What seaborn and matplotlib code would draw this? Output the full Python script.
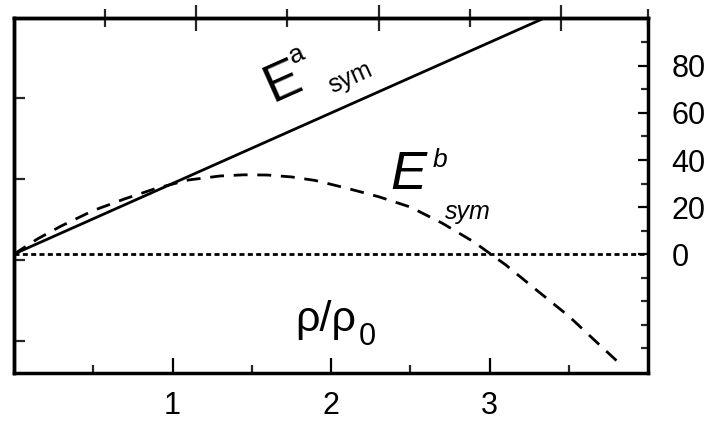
import numpy as np
import pandas as pd
import matplotlib
matplotlib.use("Agg")
import matplotlib.pyplot as plt
import seaborn as sns

# Symmetry energy vs. reduced density
rho_a = [0.0, 1.0, 2.0, 3.0, 3.35]
esym_a = [0.0, 30.0, 60.0, 90.0, 100.5]

rho_b = [0.0, 0.15, 0.3, 0.5, 0.7, 0.9, 1.1, 1.3, 1.45, 1.6, 1.75, 1.9,
         2.1, 2.3, 2.5, 2.7, 2.9, 3.1, 3.3, 3.5, 3.7, 3.82]
esym_b = [0.0, 6.5, 12.0, 18.5, 23.5, 28.0, 31.5, 33.2, 33.7, 33.6, 32.8,
          31.3, 28.0, 24.4, 20.0, 13.2, 5.2, -4.5, -15.5, -26.4, -39.0, -46.5]

x_major = [1, 2, 3]
x_minor = [0.5, 1.5, 2.5, 3.5]
y_major = [0, 20, 40, 60, 80]
y_minor = [-40, -30, -20, -10, 10, 30, 50, 70, 90]
top_major = [1.15, 2.30, 3.45]
top_minor = [0.575, 1.725, 2.875, 4.0]
left_ticks = [-36.8, -2.4, 32.0, 66.4]

sns.set_theme(style="white")
plt.rcParams["font.family"] = ["Liberation Sans", "DejaVu Sans"]

W, H = 718, 422
fig = plt.figure(figsize=(W / 100, H / 100), dpi=100)
ax = fig.add_axes([14 / W, 1 - 373 / H, (648 - 14) / W, (373 - 18) / H])

df_a = pd.DataFrame({"rho": rho_a, "E": esym_a})
df_b = pd.DataFrame({"rho": rho_b, "E": esym_b})
sns.lineplot(data=df_a, x="rho", y="E", ax=ax, color="black", lw=2.0)
sns.lineplot(data=df_b, x="rho", y="E", ax=ax, color="black", lw=2.0,
             linestyle=(0, (5, 3.5)))
ax.axhline(0, color="black", lw=2.0, linestyle=(0, (1.8, 1.2)))

ax.set_xlim(0, 4)
ax.set_ylim(-50.6, 100.4)
ax.set_xlabel("")
ax.set_ylabel("")

for s in ax.spines.values():
    s.set_linewidth(2.5)
    s.set_color("black")

# bottom axis
ax.set_xticks(x_major)
ax.set_xticks(x_minor, minor=True)
ax.set_xticklabels([str(v) for v in x_major])
ax.tick_params(axis="x", which="major", direction="in", length=11, width=1.6,
               labelsize=22, pad=13, colors="black", bottom=True, top=False)
ax.tick_params(axis="x", which="minor", direction="in", length=5.5, width=1.6,
               bottom=True, top=False)

# right axis with labels
ax.yaxis.tick_right()
ax.set_yticks(y_major)
ax.set_yticks(y_minor, minor=True)
ax.set_yticklabels([str(v) for v in y_major])
ax.tick_params(axis="y", which="major", direction="in", length=7.5, width=1.6,
               labelsize=22, pad=17, colors="black", right=True, left=False)
ax.tick_params(axis="y", which="minor", direction="in", length=5, width=1.6,
               right=True, left=False)

# top axis: unlabeled crossing ticks
top = ax.secondary_xaxis("top")
top.set_xticks(top_major)
top.set_xticks(top_minor, minor=True)
top.set_xticklabels([])
top.tick_params(which="major", direction="inout", length=19, width=1.6)
top.tick_params(which="minor", direction="inout", length=13, width=1.6)
top.spines["top"].set_linewidth(2.5)

# left axis: unlabeled inward ticks
left = ax.secondary_yaxis("left")
left.set_yticks(left_ticks)
left.set_yticklabels([])
left.tick_params(direction="in", length=8, width=1.6)
left.spines["left"].set_linewidth(2.5)


def ftext(px, py, s, **kw):
    fig.text(px / W, 1 - py / H, s, color="black", ha="center", va="center",
             rotation_mode="anchor", **kw)


ftext(283, 82, "E", fontsize=38, rotation=24)
ftext(297, 55, "a", fontsize=19, rotation=24)
ftext(350, 78, "sym", fontsize=18, rotation=24)

ftext(408, 175, "E", fontsize=39, style="italic")
ftext(440, 160, "b", fontsize=19, style="italic")
ftext(468, 212, "sym", fontsize=18, style="italic")

fig.text(326 / W, 1 - 331 / H, "ρ/ρ", fontsize=31, color="black",
         ha="center", va="baseline")
fig.text(359 / W, 1 - 345 / H, "0", fontsize=22, color="black",
         ha="left", va="baseline")

fig.savefig("out.png", dpi=100)
